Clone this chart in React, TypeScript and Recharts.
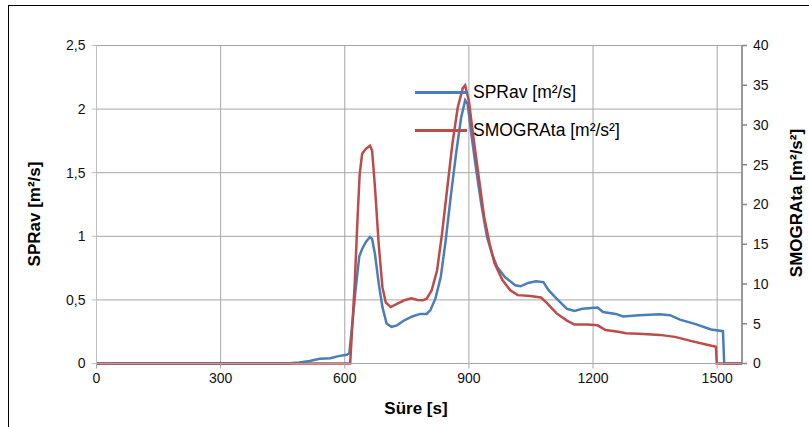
import { LineChart, Line, XAxis, YAxis, CartesianGrid, Legend } from 'recharts';

// SPRav [m²/s] (sol eksen)
const sprTimes = [
  0, 460, 490, 515, 540, 565, 585, 605, 611, 620,
  626, 635, 642, 651, 661, 666, 673, 682, 691, 701,
  713, 726, 744, 763, 782, 798, 807, 819, 832, 844,
  856, 869, 881, 891, 897, 906, 919, 931, 944, 956,
  968, 987, 1012, 1025, 1043, 1062, 1080, 1093, 1112, 1137,
  1155, 1174, 1211, 1224, 1255, 1273, 1311, 1361, 1386, 1410,
  1448, 1485, 1514, 1517, 1560,
];
const sprValues = [
  0, 0, 0.008, 0.02, 0.037, 0.042, 0.058, 0.068, 0.08, 0.37,
  0.575, 0.84, 0.9, 0.955, 0.994, 0.98, 0.86, 0.63, 0.445, 0.314,
  0.288, 0.3, 0.34, 0.37, 0.39, 0.39, 0.42, 0.51, 0.68, 0.97,
  1.31, 1.65, 1.93, 2.07, 2.04, 1.8, 1.49, 1.23, 0.99, 0.86,
  0.76, 0.68, 0.615, 0.607, 0.633, 0.646, 0.64, 0.575, 0.51, 0.43,
  0.413, 0.43, 0.44, 0.405, 0.39, 0.37, 0.38, 0.387, 0.38, 0.345,
  0.31, 0.267, 0.254, 0, 0,
];

// SMOGRAta [m²/s²] (sağ eksen)
const smogTimes = [
  0, 613, 624, 631, 636, 642, 651, 661, 666, 673,
  682, 691, 699, 711, 726, 744, 761, 776, 788, 798,
  810, 823, 835, 848, 860, 873, 885, 891, 900, 912,
  925, 937, 950, 962, 981, 1000, 1018, 1049, 1074, 1087,
  1112, 1137, 1155, 1186, 1211, 1230, 1261, 1280, 1323, 1361,
  1398, 1436, 1473, 1497, 1499, 1560,
];
const smogValues = [
  0, 0, 10, 18.4, 23.8, 26.4, 27, 27.4, 26.8, 22.2,
  15, 9.6, 7.7, 7.1, 7.5, 7.95, 8.2, 8.0, 7.95, 8.15,
  9.2, 11.7, 16.3, 22.2, 27.6, 32.2, 34.6, 35, 33, 28,
  23, 18.4, 15.1, 12.6, 10.5, 9.2, 8.6, 8.5, 8.3, 7.7,
  6.3, 5.4, 4.9, 4.9, 4.8, 4.2, 4.0, 3.8, 3.7, 3.6,
  3.35, 2.85, 2.4, 2.1, 0, 0,
];

const seriesNames = ['SPRav [m²/s]', 'SMOGRAta [m²/s²]'];
const xTicks = [0, 300, 600, 900, 1200, 1500];
const leftTicks = [0, 0.5, 1, 1.5, 2, 2.5];
const rightTicks = [0, 5, 10, 15, 20, 25, 30, 35, 40];

const sprData = sprTimes.map((t, i) => ({ t, v: sprValues[i] }));
const smogData = smogTimes.map((t, i) => ({ t, v: smogValues[i] }));

const FONT = '"Liberation Sans", Arial, sans-serif';
const BLUE = '#4a7ebb';
const RED = '#be4b48';
const GRID = '#a6a6a6';

const tickStyle = { fontSize: 14, fill: '#111', fontFamily: FONT };

// lejant sırası: önce SPRav, sonra SMOGRAta
const LegendBox = ({ payload }: any) => {
  const items = [...(payload || [])].sort(
    (a: any, b: any) => seriesNames.indexOf(a.value) - seriesNames.indexOf(b.value)
  );
  return (
    <div style={{ fontFamily: FONT, fontSize: 17.5, color: '#000' }}>
      {items.map((p: any) => (
        <div key={p.value} style={{ display: 'flex', alignItems: 'center', height: 20, marginBottom: 18 }}>
          <div style={{ width: 52, height: 3, background: p.color, marginRight: 6 }} />
          <span style={{ whiteSpace: 'nowrap' }}>{p.value}</span>
        </div>
      ))}
    </div>
  );
};

const title = (text: string, cx: number, cy: number, angle: number) => () => (
  <text
    x={cx}
    y={cy}
    transform={angle ? `rotate(${angle}, ${cx}, ${cy})` : undefined}
    textAnchor="middle"
    dominantBaseline="central"
    fontFamily={FONT}
    fontSize={17}
    fontWeight="bold"
    fill="#000"
  >
    {text}
  </text>
);

export default function App() {
  return (
    <div style={{ position: 'absolute', left: 0, top: 0, width: 809, height: 427 }}>
      <div
        style={{
          position: 'absolute',
          left: 8,
          top: 5,
          width: 801,
          height: 422,
          boxSizing: 'border-box',
          borderLeft: '1px solid #000',
          borderTop: '1px solid #000',
        }}
      />
      <LineChart
        width={809}
        height={427}
        margin={{ top: 45.5, right: 0, bottom: 0, left: 0 }}
        style={{ position: 'absolute', left: 0, top: 0 }}
      >
        <CartesianGrid yAxisId="left" stroke={GRID} />
        <XAxis
          dataKey="t"
          type="number"
          domain={[0, 1560]}
          ticks={xTicks}
          allowDuplicatedCategory={false}
          height={63.5}
          tick={tickStyle}
          tickSize={5}
          tickMargin={5}
          stroke={GRID}
          label={{ content: title('Süre [s]', 416, 408, 0) }}
        />
        <YAxis
          yAxisId="left"
          orientation="left"
          domain={[0, 2.5]}
          ticks={leftTicks}
          width={96.5}
          tick={tickStyle}
          tickSize={5}
          tickMargin={6}
          stroke="#bfbfbf"
          tickFormatter={(v: number) => String(v).replace('.', ',')}
          label={{ content: title(seriesNames[0], 34, 214, -90) }}
        />
        <YAxis
          yAxisId="right"
          orientation="right"
          domain={[0, 40]}
          ticks={rightTicks}
          width={67}
          tick={tickStyle}
          tickSize={5}
          tickMargin={6}
          stroke="#868686"
          strokeWidth={1.5}
          label={{ content: title(seriesNames[1], 796, 203, -90) }}
        />
        <Legend
          layout="horizontal"
          verticalAlign="middle"
          align="center"
          content={LegendBox}
          wrapperStyle={{ position: 'absolute', left: 415, top: 82, width: 240, height: 80 }}
        />
        <Line
          yAxisId="left"
          data={sprData}
          dataKey="v"
          name={seriesNames[0]}
          type="linear"
          stroke={BLUE}
          strokeWidth={2.5}
          dot={false}
          activeDot={false}
          isAnimationActive={false}
        />
        <Line
          yAxisId="right"
          data={smogData}
          dataKey="v"
          name={seriesNames[1]}
          type="linear"
          stroke={RED}
          strokeWidth={2.5}
          dot={false}
          activeDot={false}
          isAnimationActive={false}
        />
      </LineChart>
    </div>
  );
}
